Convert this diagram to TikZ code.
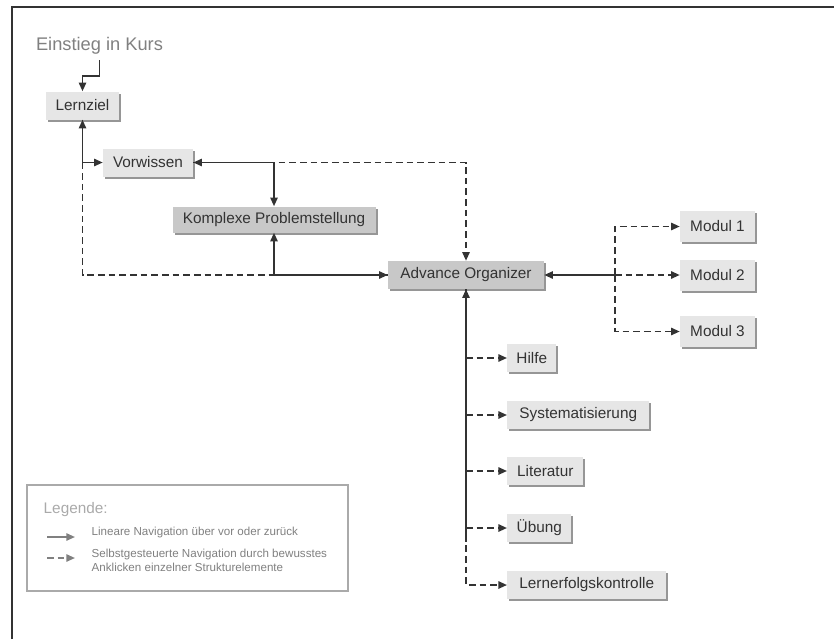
\documentclass[tikz,border=0pt]{standalone}
\usepackage{fontspec}
\setmainfont{Liberation Sans}
\usepackage{xcolor}
\usepackage{tikz}
\usetikzlibrary{
    arrows.meta,
    positioning,
    shadows
}
\definecolor{linie}{RGB}{51,51,51}
\definecolor{hell}{RGB}{230,230,230}
\definecolor{dunkel}{RGB}{200,200,200}
\definecolor{schatten}{RGB}{150,150,150}
\definecolor{grautext}{RGB}{128,128,128}
\definecolor{rahmen}{RGB}{170,170,170}
\tikzset{
    kasten/.style={
        rectangle,
        fill=hell,
        minimum height=21pt,
        inner sep=2pt,
        text=linie,
        font=\fontsize{11.5}{13}\selectfont,
        drop shadow={shadow xshift=1.5pt, shadow yshift=-1.5pt, fill=schatten, opacity=1}
    },
    kastendunkel/.style={
        kasten,
        fill=dunkel
    },
    linear/.style={
        draw=linie,
        line width=1.3pt,
        >={Triangle[length=6.5pt,width=5.5pt]}
    },
    frei/.style={
        linear,
        dash pattern=on 5pt off 3pt
    },
    legtext/.style={
        anchor=west,
        align=left,
        text=grautext,
        font=\fontsize{8.7}{10.5}\selectfont
    }
}

\begin{document}
\begin{tikzpicture}[x=0.75pt, y=-0.75pt]
        \useasboundingbox (0,0) rectangle (834,639);
        % Rahmen
        \draw[linie, line width=1.5pt] (12,639) -- (12,7) -- (834,7);

        % Einstieg und Hauptpfad
        \node[text=grautext, inner sep=4pt, font=\fontsize{13.7}{15}\selectfont]
            (einstieg) at (99.5,46) {Einstieg in Kurs};
        \node[kasten, minimum width=54.75pt] (lernziel) at (82.5,105.5) {Lernziel};
        \node[kasten, minimum width=67.5pt] (vorwissen) at (148,162.5) {Vorwissen};
        \node[kastendunkel, minimum width=152.25pt, minimum height=19.5pt]
            (problem) at (274,219.5) {Komplexe Problemstellung};
        \node[kastendunkel, minimum width=117pt] (organizer) at (466,275) {Advance Organizer};

        % Module
        \foreach \name/\y/\nr in {modeins/226.5/1, modzwei/275/2, moddrei/331.5/3} {
            \node[kasten, minimum width=56.25pt, minimum height=23.25pt]
                (\name) at (717.5,\y) {Modul \nr};
        }

        % Strukturelemente
        \foreach \name/\y/\w/\txt in {
            hilfe/358/36.75pt/Hilfe,
            system/415/106.5pt/Systematisierung,
            literatur/471/57pt/Literatur,
            uebung/528/48pt/Übung,
            kontrolle/585/119.25pt/Lernerfolgskontrolle%
        } {
            \node[kasten, anchor=west, minimum width=\w] (\name) at (507,\y) {\txt};
        }

        % Verbindungen
        \draw[linear,->] (einstieg.south) -- ++(0,16) -| (lernziel.north);
        \draw[frei] (lernziel.south) |- (organizer.west);
        \draw[frei,->] (vorwissen.east) -| (organizer.north);
        \draw[linear,<->] (lernziel.south) |- (vorwissen.west);
        \draw[linear,<->] (vorwissen.east) -| (problem.north);
        \draw[linear,<->] (problem.south) |- (organizer.west);

        \coordinate (verteiler) at (615,275);
        \draw[frei,->] (verteiler) |- (modeins.west);
        \draw[frei,->] (verteiler) |- (moddrei.west);
        \draw[frei,->] (verteiler) -- (modzwei.west);
        \draw[linear,<-] (organizer.east) -- (verteiler);

        \foreach \ziel in {hilfe,system,literatur,uebung} {
            \draw[frei,->] (organizer.south |- \ziel.west) -- (\ziel.west);
        }
        \draw[frei,->] (organizer.south) |- (kontrolle.west);
        \draw[linear,<-] (organizer.south) -- (organizer.south |- uebung.south);

        % Legende
        \node[draw=rahmen, line width=1.1pt, minimum width=240.75pt, minimum height=79.5pt]
            (legende) at (187.5,538) {};
        \node[anchor=west, text=rahmen, font=\fontsize{11.5}{13}\selectfont]
            (legtitel) at (39,510) {Legende:};
        \node[legtext] (legeins) at (87,532) {Lineare Navigation über vor oder zurück};
        \node[legtext] (legzwei) at (87,560)
            {Selbstgesteuerte Navigation durch bewusstes\\Anklicken einzelner Strukturelemente};
        \coordinate (linanf) at (47,537);
        \coordinate (linend) at (75,537);
        \coordinate (freianf) at (47,558);
        \coordinate (freiend) at (75,558);
        \draw[linear, draw=grautext, ->] (linanf) -- (linend);
        \draw[frei, draw=grautext, ->] (freianf) -- (freiend);
    \end{tikzpicture}
\end{document}
